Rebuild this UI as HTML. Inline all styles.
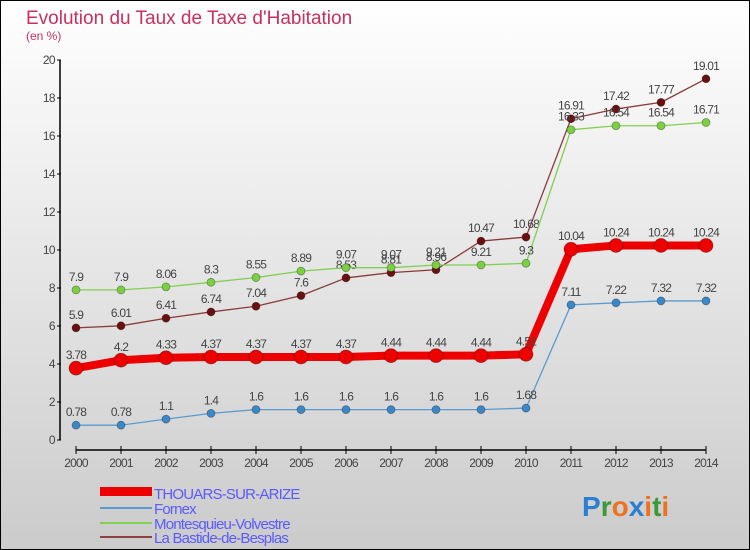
<!DOCTYPE html>
<html><head><meta charset="utf-8">
<style>
html,body{margin:0;padding:0}
body{width:750px;height:550px;overflow:hidden;font-family:"Liberation Sans",sans-serif}
svg{display:block}
</style></head>
<body>
<svg id="chart" width="750" height="550" xmlns="http://www.w3.org/2000/svg">
<defs><linearGradient id="bg" x1="0" y1="0" x2="0" y2="1"><stop offset="0" stop-color="#ffffff"/><stop offset="1" stop-color="#cbcbcb"/></linearGradient></defs>
<rect x="0.5" y="0.5" width="749" height="549" fill="url(#bg)" stroke="#000"/>
<text x="26" y="24" font-size="19" fill="#c8305f">Evolution du Taux de Taxe d'Habitation</text>
<text x="26" y="40" font-size="12" fill="#c8305f">(en %)</text>
<g id="plot"></g>
<g id="legend">
<rect x="100" y="487" width="52" height="9" fill="#e00"/>
<text x="154" y="499" font-size="15" fill="#5a5aff" letter-spacing="-0.8">THOUARS-SUR-ARIZE</text>
<line x1="100" y1="508" x2="152" y2="508" stroke="#5a9ad0" stroke-width="2"/>
<text x="154" y="514" font-size="15" fill="#5a5aff" letter-spacing="-0.8">Fornex</text>
<line x1="100" y1="523" x2="152" y2="523" stroke="#80d050" stroke-width="2"/>
<text x="154" y="529" font-size="15" fill="#5a5aff" letter-spacing="-0.8">Montesquieu-Volvestre</text>
<line x1="100" y1="537" x2="152" y2="537" stroke="#8a4040" stroke-width="2"/>
<text x="154" y="543" font-size="15" fill="#5a5aff" letter-spacing="-0.8">La Bastide-de-Besplas</text>
</g>
<g font-size="28" font-weight="bold" font-family="Liberation Sans,sans-serif">
<text x="582" y="516"><tspan fill="#2a7fd0">P</tspan><tspan fill="#3a9a3a">r</tspan><tspan fill="#f07020">o</tspan><tspan fill="#2a7fd0">x</tspan><tspan fill="#f07020">i</tspan><tspan fill="#3a9a3a">t</tspan><tspan fill="#f07020">i</tspan></text>
</g>
</svg>
<script>
const years = [2000,2001,2002,2003,2004,2005,2006,2007,2008,2009,2010,2011,2012,2013,2014];
const yTicks = [0,2,4,6,8,10,12,14,16,18,20];
const thouars = [3.78,4.2,4.33,4.37,4.37,4.37,4.37,4.44,4.44,4.44,4.51,10.04,10.24,10.24,10.24];
const fornex = [0.78,0.78,1.1,1.4,1.6,1.6,1.6,1.6,1.6,1.6,1.68,7.11,7.22,7.32,7.32];
const montesquieu = [7.9,7.9,8.06,8.3,8.55,8.89,9.07,9.07,9.21,9.21,9.3,16.33,16.54,16.54,16.71];
const labastide = [5.9,6.01,6.41,6.74,7.04,7.6,8.53,8.81,8.96,10.47,10.68,16.91,17.42,17.77,19.01];

const NS = "http://www.w3.org/2000/svg";
const plot = document.getElementById('plot');
const x = i => 76 + i * (706 - 76) / (years.length - 1);
const y = v => 440 - v * 19;
function mk(tag, attrs, parent) {
  const e = document.createElementNS(NS, tag);
  for (const k in attrs) e.setAttribute(k, attrs[k]);
  (parent || plot).appendChild(e);
  return e;
}
// y axis
const ya = mk('line', {x1:60, y1:y(20), x2:60, y2:y(0), stroke:'#000', 'stroke-width':1.5});


yTicks.forEach(t => {
  const tk = mk('line', {x1:57, y1:y(t), x2:61, y2:y(t), stroke:'#000'});
  
  
  const lb = mk('text', {x:55, y:y(t) + 4, 'font-size':12, fill:'#444', 'text-anchor':'end', 'letter-spacing':'-0.6'});
  lb.textContent = t;
  
  
});
// x axis
const xa = mk('line', {x1:x(0), y1:450, x2:x(years.length - 1), y2:450, stroke:'#000', 'stroke-width':1.5});


years.forEach((yr, i) => {
  const tk = mk('line', {x1:x(i), y1:446, x2:x(i), y2:454, stroke:'#000'});
  
  
  const lb = mk('text', {x:x(i), y:467, 'font-size':12, fill:'#444', 'text-anchor':'middle', 'letter-spacing':'-0.8'});
  lb.textContent = yr;
  
  
});
function series(vals, color, dot, lw, r, name) {
  const g = mk('g', {});
  
  
  const pl = mk('polyline', {points: vals.map((v, i) => x(i) + ',' + y(v)).join(' '), fill:'none', stroke:color, 'stroke-width':lw, 'stroke-linejoin':'round'}, g);
  
  
  vals.forEach((v, i) => {
    const c = mk('circle', {cx:x(i), cy:y(v), r:r, fill:dot, stroke:'rgba(0,0,0,0.35)', 'stroke-width':0.8}, g);
    
    
    const t = mk('text', {x:x(i), y:y(v) - 9, 'font-size':12, fill:'#444', 'text-anchor':'middle', 'letter-spacing':'-0.8'}, g);
    t.textContent = v;
    
    
  });
}
series(labastide, '#8a3a3a', '#6a1010', 1.3, 4, 'labastide');
series(montesquieu, '#80d050', '#7ad040', 1.3, 4, 'montesquieu');
series(fornex, '#5a9ad0', '#3a88c8', 1.3, 4, 'fornex');
series(thouars, '#ee0000', '#ee0000', 8, 7, 'thouars');
</script>
</body></html>
